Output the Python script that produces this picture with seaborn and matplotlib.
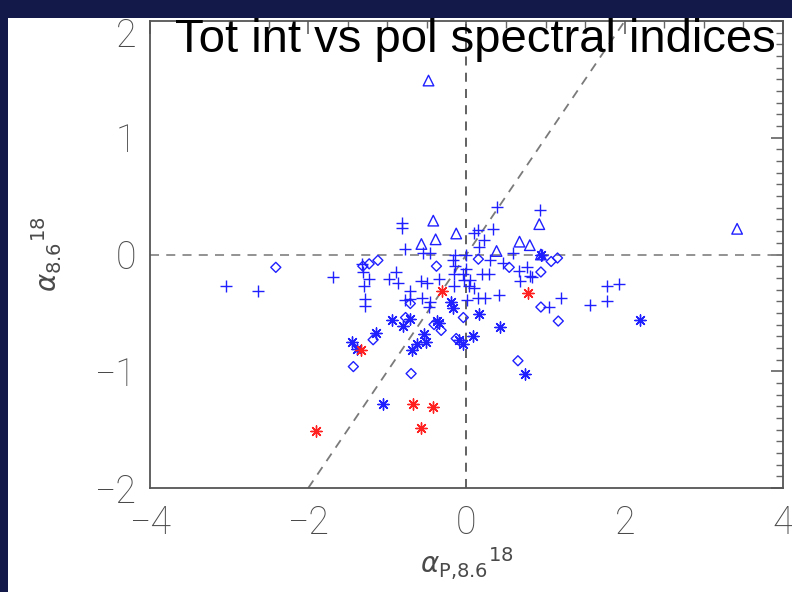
import matplotlib
matplotlib.use("Agg")
import matplotlib.pyplot as plt
from matplotlib.patches import Rectangle
from matplotlib.ticker import MultipleLocator
from matplotlib.transforms import ScaledTranslation
import seaborn as sns
import pandas as pd

# ---------------- data ----------------
plus_x = [-3.04, -2.63, -1.69, -0.82, -0.82, -0.78, -0.46, -0.55,
          -1.32, -1.31, -1.23, -1.30, -1.28, -1.28,
          -0.89, -0.98, -0.86, -0.71, -0.71, -0.78,
          -0.58, -0.50, -0.56, -0.46, -0.48, -0.35,
          -0.17, -0.15, -0.16, -0.16, -0.05, -0.03, -0.01,
          0.05, 0.09, 0.14, 0.23, 0.01, 0.03,
          -0.15, 0.00, 0.09, 0.14, 0.22, 0.33, 0.39, 0.16,
          0.30, 0.20, 0.28, 0.46, 0.59, 0.93,
          0.66, 0.77, 0.80, 0.83, 0.68, 0.41,
          1.19, 1.04, 1.56, 1.78, 1.93, 1.77, 0.96]
plus_y = [-0.27, -0.31, -0.19, 0.27, 0.23, 0.05, 0.01, 0.01,
          -0.08, -0.15, -0.21, -0.27, -0.38, -0.44,
          -0.15, -0.21, -0.24, -0.31, -0.38, -0.39,
          -0.23, -0.24, -0.37, -0.41, -0.45, -0.21,
          -0.05, -0.10, -0.17, -0.27, -0.17, -0.22, -0.12,
          -0.22, -0.29, -0.37, -0.37, -0.39, -0.27,
          0.00, 0.00, 0.18, 0.21, 0.12, 0.22, 0.41, 0.06,
          -0.05, -0.17, -0.17, -0.07, 0.01, 0.38,
          -0.14, -0.11, -0.18, -0.19, -0.23, -0.35,
          -0.37, -0.45, -0.43, -0.27, -0.25, -0.40, 0.00]

diam_x = [-2.41, -1.31, -1.23, -1.12, -0.38, 0.15, 0.54, 0.94, 1.07, 1.15,
          -0.71, 0.94, 1.16, -0.04, -0.77, -1.18, -0.32, -0.41, -0.13, 0.65,
          -1.43, -0.70]
diam_y = [-0.11, -0.10, -0.08, -0.05, -0.10, -0.04, -0.11, -0.15, -0.06, -0.03,
          -0.42, -0.45, -0.57, -0.54, -0.54, -0.73, -0.65, -0.60, -0.72, -0.91,
          -0.96, -1.02]

tri_x = [-0.48, 3.42, -0.42, -0.39, -0.13, -0.57, 0.92, 0.67, 0.80, 0.38, 0.94]
tri_y = [1.49, 0.22, 0.29, 0.13, 0.18, 0.09, 0.26, 0.11, 0.08, 0.03, 0.00]

ast_x = [-1.06, 0.74, 2.19, 0.42, 0.08, -0.05, -0.10, -0.54, -0.51, -0.37,
         -1.45, -1.38, -1.15, -0.94, -0.80, -0.62, -0.69, -0.71, 0.16, -0.20,
         -0.17, 0.94, -0.35]
ast_y = [-1.28, -1.02, -0.56, -0.62, -0.70, -0.77, -0.73, -0.68, -0.75, -0.57,
         -0.75, -0.81, -0.67, -0.56, -0.61, -0.77, -0.82, -0.55, -0.51, -0.41,
         -0.46, 0.00, -0.59]

red_x = [-1.90, -1.33, -0.31, 0.78, -0.67, -0.42, -0.57]
red_y = [-1.51, -0.82, -0.31, -0.33, -1.28, -1.31, -1.49]

x_ticks = [-4, -2, 0, 2, 4]
y_ticks = [-2, -1, 0, 1, 2]
x_ticklabels = ["\u22124", "\u22122", "0", "2", "4"]
y_ticklabels = ["\u22122", "\u22121", "0", "1", "2"]
title = "Tot int vs pol spectral indices"

# ---------------- figure ----------------
sns.set_theme(style="white")
plt.rcParams["font.family"] = ["Roboto", "Liberation Sans", "DejaVu Sans"]
plt.rcParams["mathtext.fontset"] = "dejavusans"

fig = plt.figure(figsize=(7.92, 5.92), dpi=100, facecolor="#131a4a")
bg = Rectangle((8 / 792, 0), 1 - 8 / 792, 1 - 18 / 592,
               transform=fig.transFigure, facecolor="white",
               edgecolor="none", zorder=-10)
fig.patches.append(bg)
ax = fig.add_axes([150 / 792, 1 - 488 / 592, 633 / 792, 467 / 592])
ax.set_zorder(2)
ax.set_facecolor("white")

blue = "#2020ff"
red = "#ff2020"

# reference lines
ax.plot([-4, 4], [0, 0], ls=(0, (5, 4)), color="#8a8a8a", lw=1.3, zorder=1)
ax.plot([0, 0], [-2, 2], ls=(0, (5, 4)), color="#555555", lw=1.3, zorder=1)
ax.plot([-2, 2], [-2, 2], ls=(0, (5, 4)), color="#7a7a7a", lw=1.3, zorder=1)

df_plus = pd.DataFrame({"x": plus_x, "y": plus_y})
df_diam = pd.DataFrame({"x": diam_x, "y": diam_y})
df_tri = pd.DataFrame({"x": tri_x, "y": tri_y})
df_ast = pd.DataFrame({"x": ast_x, "y": ast_y})
df_red = pd.DataFrame({"x": red_x, "y": red_y})

sns.scatterplot(data=df_plus, x="x", y="y", marker="+", s=65, color=blue,
                linewidth=1.0, ax=ax, zorder=3)
sns.scatterplot(data=df_diam, x="x", y="y", marker="D", s=26, facecolor="none",
                edgecolor=blue, linewidth=1.0, ax=ax, zorder=3)
sns.scatterplot(data=df_tri, x="x", y="y", marker="^", s=58, facecolor="none",
                edgecolor=blue, linewidth=1.0, ax=ax, zorder=3)
sns.scatterplot(data=df_ast, x="x", y="y", marker=(8, 2, 0), s=65, color=blue,
                linewidth=1.0, ax=ax, zorder=3)
sns.scatterplot(data=df_red, x="x", y="y", marker=(8, 2, 0), s=65, color=red,
                linewidth=1.0, ax=ax, zorder=4)

ax.set_xlim(-4, 4)
ax.set_ylim(-2, 2)
ax.set_xticks(x_ticks)
ax.set_yticks(y_ticks)
ax.set_xticklabels(x_ticklabels, fontweight="light")
ax.set_yticklabels(y_ticklabels, fontweight="light")
ax.xaxis.set_minor_locator(MultipleLocator(0.5))
ax.yaxis.set_minor_locator(MultipleLocator(0.1))
ax.tick_params(axis="both", which="major", direction="in", length=9, width=1.1,
               color="#555555", top=True, right=True, labelsize=27,
               labelcolor="#4a4a4a")
ax.tick_params(axis="x", which="major", pad=12)
ax.tick_params(axis="y", which="major", pad=10)
ax.tick_params(axis="both", which="minor", direction="in", length=5, width=1.0,
               color="#666666", top=True, right=True)
for sp in ax.spines.values():
    sp.set_color("#555555")
    sp.set_linewidth(1.3)

# top y label sits a little lower, inside the white panel
top_lbl = ax.get_yticklabels()[-1]
top_lbl.set_transform(top_lbl.get_transform() +
                      ScaledTranslation(0, -11 / 100, fig.dpi_scale_trans))

ax.set_xlabel(r"$\alpha_{\mathrm{P{,}8.6}}{}^{18}$", fontsize=20, color="#4a4a4a",
              labelpad=2)
ax.set_ylabel(r"$\alpha_{8.6}{}^{18}$", fontsize=20, color="#4a4a4a",
              labelpad=22)

fig.text(175 / 792, 1 - 52 / 592, title, fontsize=34, color="black",
         family=["Liberation Sans", "DejaVu Sans"], ha="left", va="baseline",
         zorder=10)

fig.savefig("out.png", dpi=100, facecolor=fig.get_facecolor())
